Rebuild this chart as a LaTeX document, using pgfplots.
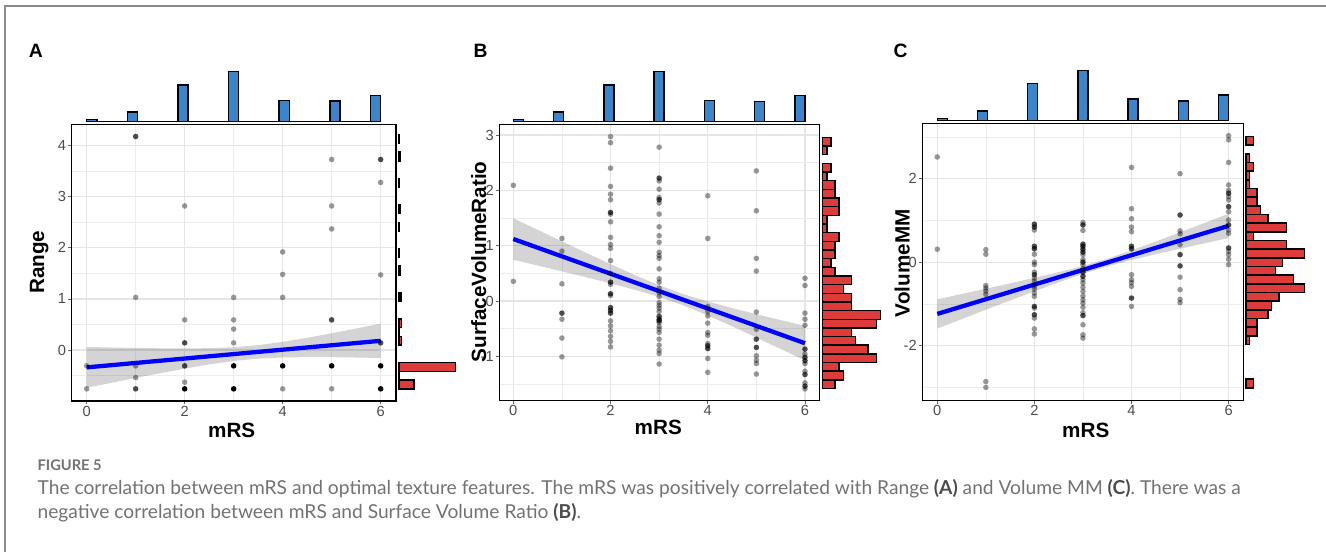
\documentclass[border=0pt]{standalone}
\usepackage{pgfplots}
\pgfplotsset{compat=1.18}
\usepackage{fontspec}
\setmainfont{Liberation Sans}
\newfontfamily\capfont{Lato}
\definecolor{histblue}{HTML}{3986CD}
\definecolor{histred}{HTML}{DE3B3B}
\definecolor{capgray}{HTML}{727272}
\pgfplotsset{
  mainax/.style={scale only axis, anchor=south west, clip=true,
    axis line style={black, line width=1.1pt},
    grid=both, major grid style={black!10, line width=0.9pt},
    minor grid style={black!7, line width=0.5pt},
    tick style={black!60, line width=0.6pt}, tick align=outside,
    major tick length=2.5pt, minor tick length=0pt,
    xtick pos=bottom, ytick pos=left,
    xtick={0,2,4,6}, minor xtick={1,3,5},
    /pgf/number format/assume math mode=true,
    tick label style={font=\fontsize{11}{11}\selectfont, text=black!70},
    xticklabel style={inner sep=1.2pt},
    yticklabel style={inner sep=1.5pt},
  },
  topax/.style={scale only axis, anchor=south west, hide axis, clip=false,
    ymin=0, ymax=42, height=37.5pt},
  rightax/.style={scale only axis, anchor=south west, hide axis, clip=false,
    xmin=0, width=45pt},
  pts/.style={only marks, mark=*, mark size=2.1pt,
    mark options={fill=black, draw opacity=0, fill opacity=#1}},
  band/.style={draw=none, fill=black, fill opacity=0.17},
  fit/.style={blue, line width=3.2pt},
  tbar/.style={ybar, bar width=0.2069, fill=histblue, draw=black, line width=1.1pt},
  rbar/.style={xbar, bar width=#1, fill=histred, draw=black, line width=1.1pt},
}
\begin{document}
\begin{tikzpicture}
\useasboundingbox (0,0) rectangle (994.5pt,414pt);
% frame
\draw[black!45, line width=1.3pt] (994.5pt,409.7pt) -- (3.75pt,409.7pt) -- (3.75pt,0pt);

% ================= A =================
\begin{axis}[mainax, at={(53.78pt,113.25pt)}, width=243.2pt, height=207.5pt,
  xmin=-0.306, xmax=6.313, ymin=-0.998, ymax=4.418,
  ytick={0,1,2,3,4}, minor ytick={-0.5,0.5,1.5,2.5,3.5}]
\addplot[pts=0.4] coordinates {(0,-0.31) (0,-0.76) (1,1.03) (1,-0.31) (1,-0.54) (2,2.82) (2,0.59) (2,-0.63) (3,1.03) (3,0.59) (3,0.41) (3,0.14) (4,1.92) (4,1.48) (4,1.03) (4,-0.76) (5,3.73) (5,2.82) (5,2.37) (5,-0.76) (6,3.28) (6,1.47)};
\addplot[pts=0.7] coordinates {(1,4.18) (1,-0.76) (2,0.14) (2,-0.31) (5,0.59) (6,3.73) (6,0.14)};
\addplot[pts=1] coordinates {(2,-0.76) (3,-0.31) (3,-0.76) (4,-0.31) (5,-0.31) (6,-0.31) (6,-0.76)};
\addplot[band] coordinates {(0,0.06) (0.5,0.049) (1,0.041) (1.5,0.034) (2,0.031) (2.5,0.036) (3,0.054) (3.5,0.095) (4,0.160) (4.5,0.239) (5,0.328) (5.5,0.421) (6,0.516)
 (6,-0.156) (5.5,-0.147) (5,-0.140) (4.5,-0.139) (4,-0.146) (3.5,-0.169) (3,-0.214) (2.5,-0.282) (2,-0.365) (1.5,-0.454) (1,-0.547) (0.5,-0.643) (0,-0.74)} -- cycle;
\addplot[fit] coordinates {(0,-0.34) (6,0.18)};
\end{axis}
\begin{axis}[topax, at={(53.78pt,322.73pt)}, width=243.2pt, xmin=-0.306, xmax=6.313]
\addplot[black, line width=1.1pt] coordinates {(0,0) (6,0)};
\addplot[tbar] coordinates {(0.103,2) (0.931,8) (1.965,31) (2.999,42) (4.033,18) (5.067,17.5) (5.897,22)};
\end{axis}
\begin{axis}[rightax, at={(299.25pt,113.25pt)}, height=207.5pt, xmax=100, ymin=-0.998, ymax=4.418]
\addplot[rbar=0.1717] coordinates {(25,-0.677) (1,-0.506) (94,-0.334) (4,0.182) (1,0.353) (4,0.525) (3,1.040) (2,1.555) (1,1.898) (1,2.414) (2,2.757) (1,3.272) (2,3.787) (1,4.130)};
\end{axis}

% ================= B =================
\begin{axis}[mainax, at={(374.48pt,113.78pt)}, width=240pt, height=207pt,
  xmin=-0.288, xmax=6.295, ymin=-1.795, ymax=3.193,
  ytick={-1,0,1,2,3}, minor ytick={-1.5,-0.5,0.5,1.5,2.5}]
\addplot[pts=0.4] coordinates {
 (0,2.09) (0,0.355)
 (1,1.13) (1,0.90) (1,0.31) (1,-0.33) (1,-0.67) (1,-1.01)
 (2,2.97) (2,2.86) (2,2.40) (2,2.07) (2,1.93) (2,1.83) (2,1.57) (2,1.43) (2,1.15) (2,1.02) (2,0.95) (2,0.73) (2,0.50) (2,0.30) (2,0.10) (2,-0.36) (2,-0.45) (2,-0.54) (2,-0.64) (2,-0.73) (2,-0.83)
 (3,2.78) (3,2.17) (3,2.02) (3,1.87) (3,1.77) (3,1.57) (3,1.34) (3,1.18) (3,1.06) (3,0.88) (3,0.82) (3,0.77) (3,0.58) (3,0.40) (3,0.34) (3,0.23) (3,0.15) (3,0.08) (3,-0.03) (3,-0.08) (3,-0.13) (3,-0.19) (3,-0.39) (3,-0.46) (3,-0.51) (3,-0.57) (3,-0.69) (3,-0.80) (3,-0.89) (3,-0.95) (3,-1.14)
 (4,1.90) (4,1.13) (4,-0.10) (4,-0.19) (4,-0.27) (4,-0.40) (4,-0.57) (4,-0.62) (4,-0.77) (4,-1.04) (4,-1.29)
 (5,2.35) (5,1.63) (5,0.77) (5,0.54) (5,-0.20) (5,-0.51) (5,-0.99) (5,-1.07) (5,-1.13) (5,-1.32)
 (6,0.41) (6,0.28) (6,-0.22) (6,-0.33) (6,-0.44) (6,-0.96) (6,-1.13) (6,-1.27) (6,-1.48) (6,-1.59)};
\addplot[pts=0.7] coordinates {(1,-0.22) (2,1.60) (2,0.34) (2,0.13) (2,-0.12) (2,-0.17) (2,-0.22) (3,2.22) (3,1.83) (3,-0.28) (3,-0.33) (3,-0.36) (4,-0.81) (4,-0.86) (5,-0.84) (5,-0.69) (6,-0.87) (6,-1.08) (6,-1.33) (6,-1.54) (6,-1.02)};
\addplot[band] coordinates {(0,1.495) (0.5,1.285) (1,1.077) (1.5,0.870) (2,0.666) (2.5,0.468) (3,0.283) (3.5,0.123) (4,-0.010) (4.5,-0.128) (5,-0.239) (5.5,-0.346) (6,-0.452)
 (6,-1.076) (5.5,-0.868) (5,-0.661) (4.5,-0.458) (4,-0.262) (3.5,-0.081) (3,0.073) (2.5,0.202) (2,0.318) (1.5,0.428) (1,0.535) (0.5,0.641) (0,0.745)} -- cycle;
\addplot[fit] coordinates {(0,1.12) (6,-0.764)};
\end{axis}
\begin{axis}[topax, at={(374.48pt,322.73pt)}, width=240pt, xmin=-0.288, xmax=6.295]
\addplot[black, line width=1.1pt] coordinates {(0,0) (6,0)};
\addplot[tbar] coordinates {(0.103,2) (0.931,8) (1.965,31) (2.999,42) (4.033,18) (5.067,17) (5.897,22)};
\end{axis}
\begin{axis}[rightax, at={(617pt,113.78pt)}, height=207pt, xmax=14.53, ymin=-1.795, ymax=3.193]
\addplot[rbar=0.1566] coordinates {(2,2.880) (1,2.723) (2,2.410) (1,2.254) (3,2.097) (3,1.940) (4,1.784) (4,1.627) (1,1.471) (1,1.314) (4,1.157) (3,1.001) (3,0.844) (2,0.688) (3,0.531) (7,0.374) (5,0.218) (7,0.061) (7,-0.095) (14,-0.252) (13,-0.409) (7,-0.565) (8,-0.722) (11,-0.878) (13,-1.035) (4,-1.192) (5,-1.348) (3,-1.505)};
\end{axis}

% ================= C =================
\begin{axis}[mainax, at={(691.7pt,113.78pt)}, width=240.75pt, height=207.45pt,
  xmin=-0.309, xmax=6.302, ymin=-3.309, ymax=3.317,
  ytick={-2,0,2}, minor ytick={-3,-1,1,3}]
\addplot[pts=0.4] coordinates {
 (0,2.52) (0,0.31)
 (1,0.30) (1,0.19) (1,-0.56) (1,-0.62) (1,-0.69) (1,-0.77) (1,-2.86) (1,-3.0)
 (2,0.77) (2,0.19) (2,0.0) (2,-0.06) (2,-0.24) (2,-0.38) (2,-0.46) (2,-0.57) (2,-0.64) (2,-0.74) (2,-0.82) (2,-1.10) (2,-1.34) (2,-1.60) (2,-1.72)
 (3,0.95) (3,0.76) (3,0.18) (3,0.06) (3,-0.06) (3,-0.16) (3,-0.42) (3,-0.50) (3,-0.60) (3,-0.70) (3,-0.81) (3,-0.90) (3,-0.98) (3,-1.08) (3,-1.21) (3,-1.50) (3,-1.74) (3,-1.82)
 (4,2.27) (4,1.28) (4,1.04) (4,0.84) (4,0.73) (4,-0.30) (4,-0.42) (4,-0.49) (4,-0.58) (4,-1.06)
 (5,2.12) (5,0.75) (5,0.68) (5,0.42) (5,-0.36) (5,-0.66) (5,-0.89) (5,-0.97)
 (6,3.03) (6,2.93) (6,2.39) (6,1.85) (6,1.72) (6,1.57) (6,1.49) (6,1.21) (6,1.01) (6,0.77) (6,0.69) (6,0.26) (6,0.18) (6,0.07) (6,-0.06)};
\addplot[pts=0.7] coordinates {(2,0.91) (2,0.84) (2,0.38) (2,0.32) (2,-0.30) (2,-1.06) (2,-1.26) (3,0.89) (3,0.43) (3,0.38) (3,0.31) (3,0.24) (3,0.0) (3,-0.24) (3,-0.34) (3,-1.28) (4,0.38) (4,0.32) (4,-0.86) (5,1.13) (5,0.18) (5,-0.09) (6,1.65) (6,1.33) (6,0.89) (6,0.34)};
\addplot[band] coordinates {(0,-0.89) (0.5,-0.763) (1,-0.636) (1.5,-0.507) (2,-0.376) (2.5,-0.239) (3,-0.090) (3.5,0.083) (4,0.282) (4.5,0.495) (5,0.715) (5.5,0.937) (6,1.161)
 (6,0.579) (5.5,0.451) (5,0.323) (4.5,0.191) (4,0.052) (3.5,-0.101) (3,-0.280) (2.5,-0.483) (2,-0.698) (1.5,-0.917) (1,-1.140) (0.5,-1.365) (0,-1.59)} -- cycle;
\addplot[fit] coordinates {(0,-1.24) (6,0.87)};
\end{axis}
\begin{axis}[topax, at={(691.7pt,323.5pt)}, width=240.75pt, xmin=-0.309, xmax=6.302]
\addplot[black, line width=1.1pt] coordinates {(0,0) (6,0)};
\addplot[tbar] coordinates {(0.103,2) (0.931,8) (1.965,31) (2.999,42) (4.033,18) (5.067,16.5) (5.897,21.5)};
\end{axis}
\begin{axis}[rightax, at={(934.5pt,113.78pt)}, height=207.45pt, xmax=16.35, ymin=-3.309, ymax=3.317]
\addplot[rbar=0.2076] coordinates {(2,2.906) (1,2.491) (2,2.283) (1,2.076) (1,1.868) (3,1.660) (3,1.453) (4,1.245) (6,1.038) (11,0.830) (2,0.622) (11,0.415) (16,0.207) (10,0.0) (8,-0.208) (13,-0.416) (16,-0.623) (9,-0.831) (7,-1.038) (6,-1.246) (3,-1.454) (3,-1.661) (1,-1.869) (2,-2.907)};
\end{axis}

% axis labels
\begin{scope}[every node/.style={font=\bfseries\fontsize{15.5}{15.5}\selectfont, inner sep=0pt}]
\node at (173.8pt,91.5pt) {mRS};
\node at (493.7pt,93.75pt) {mRS};
\node at (814.3pt,91.5pt) {mRS};
\node[rotate=90] at (29.4pt,217.3pt) {Range};
\node[rotate=90] at (359.1pt,217.7pt) {SurfaceVolumeRatio};
\node[rotate=90] at (676.6pt,216.5pt) {VolumeMM};
\end{scope}
% panel letters
\begin{scope}[every node/.style={font=\bfseries\fontsize{14.5}{14.5}\selectfont, inner sep=0pt}]
\node at (26.8pt,376pt) {A};
\node at (360.5pt,376pt) {B};
\node at (675.5pt,376pt) {C};
\end{scope}
% caption
\node[anchor=base west, inner sep=0pt, text=capgray, font=\capfont\bfseries\fontsize{11}{11}\selectfont] at (28pt,60.75pt) {FIGURE 5};
\node[anchor=base west, inner sep=0pt, text=capgray, font=\capfont\fontsize{14.4}{14.4}\selectfont] at (28pt,43pt) {The correlation between mRS and optimal texture features. The mRS was positively correlated with Range \textcolor{black!70}{\bfseries(A)} and Volume MM \textcolor{black!70}{\bfseries(C)}. There was a};
\node[anchor=base west, inner sep=0pt, text=capgray, font=\capfont\fontsize{14.4}{14.4}\selectfont] at (28pt,25pt) {negative correlation between mRS and Surface Volume Ratio \textcolor{black!70}{\bfseries(B)}.};
\end{tikzpicture}
\end{document}
